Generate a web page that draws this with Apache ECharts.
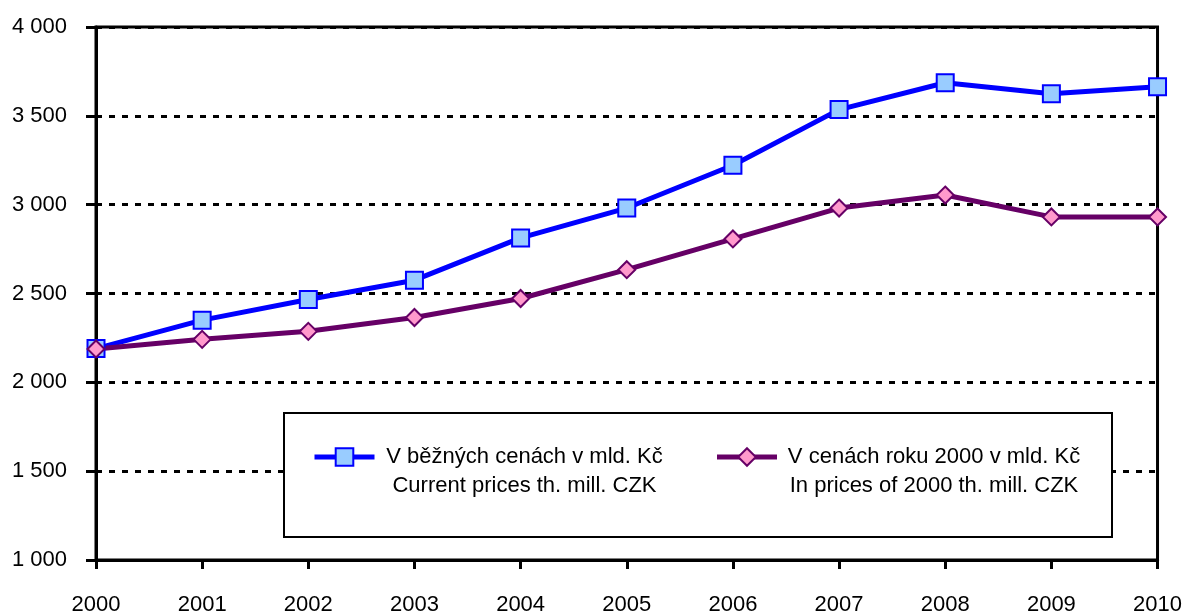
<!DOCTYPE html>
<html>
<head>
<meta charset="utf-8">
<script src="https://cdn.jsdelivr.net/npm/echarts@6/dist/echarts.min.js"></script>
<style>
html, body { margin: 0; padding: 0; background: #fff; }
#chart { width: 1185px; height: 616px; }
</style>
</head>
<body>
<div id="chart"></div>
<script>
var years = ['2000', '2001', '2002', '2003', '2004', '2005', '2006', '2007', '2008', '2009', '2010'];
var currentPrices = [2190, 2350, 2466, 2575, 2813, 2981, 3222, 3535, 3686, 3624, 3664];
var constPrices = [2188, 2242, 2287, 2365, 2472, 2634, 2807, 2981, 3054, 2931, 2931];
var nameCurrent = 'V běžných cenách v mld. Kč';
var nameConst = 'V cenách roku 2000 v mld. Kč';
var subCurrent = 'Current prices th. mill. CZK';
var subConst = 'In prices of 2000 th. mill. CZK';

var font = "'Liberation Sans', Arial, sans-serif";
var myChart = echarts.init(document.getElementById('chart'));
var option = {
	animation: false,
	textStyle: { fontFamily: font },
	grid: {
		left: 96, right: 27, top: 27, bottom: 53,
		show: true, borderColor: '#000', borderWidth: 3
	},
	legend: {
		left: 284, top: 413,
		padding: [4, 26, 40, 28],
		backgroundColor: '#fff',
		borderColor: '#000', borderWidth: 2,
		itemWidth: 60, itemHeight: 22, itemGap: 45,
		data: [
			{ name: nameCurrent, lineStyle: { width: 5, color: '#0000FF' } },
			{ name: nameConst, lineStyle: { width: 5, color: '#660066' } }
		],
		formatter: function(name) {
			if (name === nameCurrent) {
				return '{e| }\n{a|' + nameCurrent + '}\n{a|' + subCurrent + '}';
			}
			return '{e| }\n{b|' + nameConst + '}\n{b|' + subConst + '}';
		},
		textStyle: {
			fontFamily: font, fontSize: 22, color: '#000',
			rich: {
				e: { fontSize: 22, lineHeight: 29, fontFamily: font },
				a: { width: 290, align: 'center', fontSize: 22, lineHeight: 29, fontFamily: font, color: '#000' },
				b: { width: 304, align: 'center', fontSize: 22, lineHeight: 29, fontFamily: font, color: '#000' }
			}
		}
	},
	xAxis: {
		type: 'category',
		data: years,
		boundaryGap: false,
		axisLine: { lineStyle: { color: '#000', width: 3 } },
		axisTick: { show: true, length: 9, lineStyle: { color: '#000', width: 3 } },
		axisLabel: { color: '#000', fontSize: 22, margin: 34, fontFamily: font }
	},
	yAxis: {
		type: 'value',
		min: 1000, max: 4000, interval: 500,
		axisLine: { show: true, lineStyle: { color: '#000', width: 3 } },
		axisTick: { show: true, length: 10, lineStyle: { color: '#000', width: 3 } },
		axisLabel: {
			color: '#000', fontSize: 22, margin: 29, fontFamily: font,
			formatter: function(v) { return String(v).replace(/\B(?=(\d{3})+(?!\d))/g, ' '); }
		},
		splitLine: { lineStyle: { color: '#000', width: 3, type: [6, 7] } }
	},
	series: [{
		name: nameCurrent,
		type: 'line',
		data: currentPrices,
		symbol: 'rect',
		symbolSize: 17,
		lineStyle: { color: '#0000FF', width: 5 },
		itemStyle: { color: '#99CCFF', borderColor: '#0000FF', borderWidth: 2 }
	}, {
		name: nameConst,
		type: 'line',
		data: constPrices,
		symbol: 'diamond',
		symbolSize: 17,
		lineStyle: { color: '#660066', width: 5 },
		itemStyle: { color: '#FF99CC', borderColor: '#660066', borderWidth: 2 }
	}]
};
myChart.setOption(option);
</script>
</body>
</html>
